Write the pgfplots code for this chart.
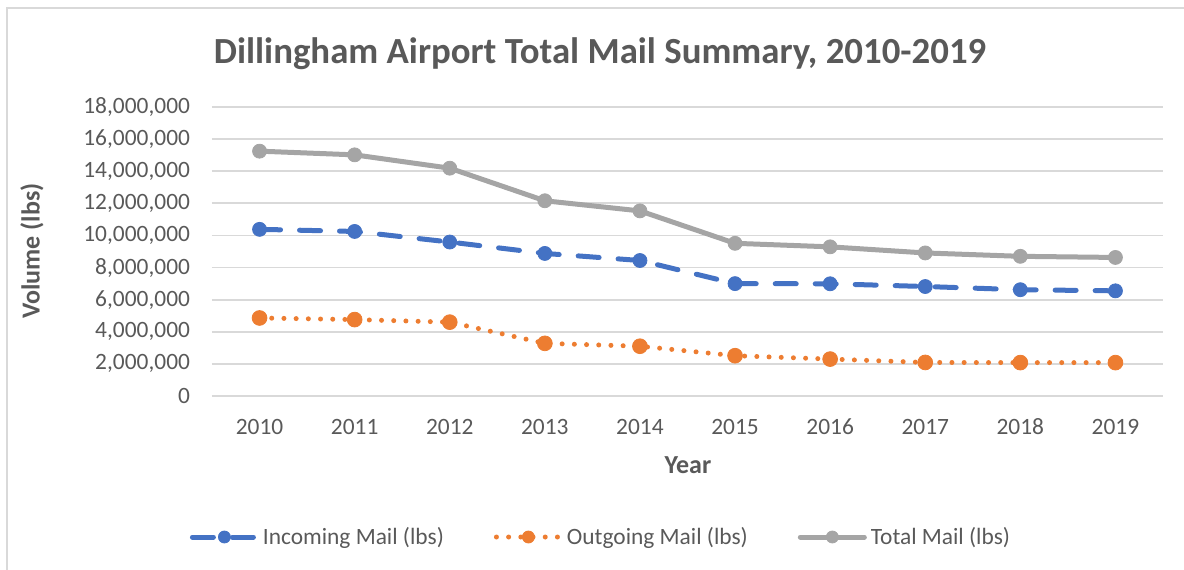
\documentclass[border=0pt]{standalone}
\usepackage{pgfplots}
\pgfplotsset{compat=1.18}
\usepackage{fontspec}
\setmainfont{Carlito}
\definecolor{txt}{HTML}{595959}
\definecolor{gridc}{HTML}{D9D9D9}
\definecolor{cin}{HTML}{4472C4}
\definecolor{cout}{HTML}{ED7D31}
\definecolor{ctot}{HTML}{A5A5A5}
\begin{document}
\begin{tikzpicture}
\useasboundingbox (-106pt,-86.5pt) rectangle (486pt,198pt);
\draw[gridc, line width=0.8pt] (-102.5pt,-95pt) -- (-102.5pt,194pt) -- (495pt,194pt);
\begin{axis}[
  at={(0pt,0pt)}, anchor=south west,
  scale only axis, width=475.5pt, height=144.5pt,
  xmin=-0.5, xmax=9.5, ymin=0, ymax=18000000,
  xtick={0,1,2,3,4,5,6,7,8,9},
  xticklabels={2010,2011,2012,2013,2014,2015,2016,2017,2018,2019},
  ytick={0,2000000,4000000,6000000,8000000,10000000,12000000,14000000,16000000,18000000},
  scaled y ticks=false,
  /pgf/number format/assume math mode=true,
  /pgf/number format/fixed,
  /pgf/number format/1000 sep={,},
  ticklabel style={font=\fontsize{11.7}{14}\selectfont, text=txt},
  yticklabel style={xshift=-7.5pt},
  xticklabel style={yshift=-7pt, text height=8.5pt, text depth=0pt},
  major tick length=0pt,
  axis line style={draw=none},
  ymajorgrids, grid style={gridc, line width=0.9pt},
  legend columns=3,
  legend style={draw=none, fill=none, at={(195pt,-70.5pt)}, anchor=center,
    font=\fontsize{11.7}{14}\selectfont, text=txt,
    /tikz/every even column/.append style={column sep=23pt}},
  legend cell align=left,
  legend image code/.code={\draw[mark repeat=2,mark phase=2, mark size=3pt] plot coordinates {(0pt,0pt) (16pt,0pt) (32pt,0pt)};},
]
\addplot[cin, line width=2.5pt, line cap=round, dash pattern=on 10.5pt off 9.5pt, mark=*, mark size=3.5pt, mark options={solid, fill=cin, draw=cin, line width=0.4pt}]
  coordinates {(0,10380000) (1,10250000) (2,9590000) (3,8880000) (4,8440000) (5,7000000) (6,6990000) (7,6820000) (8,6620000) (9,6550000)};
\addlegendentry{Incoming Mail (lbs)}
\addplot[cout, line width=2.5pt, line cap=round, dash pattern=on 0pt off 6.1pt, mark=*, mark size=3.7pt, mark options={solid, fill=cout, draw=cout, line width=0.4pt}]
  coordinates {(0,4860000) (1,4760000) (2,4600000) (3,3280000) (4,3100000) (5,2510000) (6,2300000) (7,2090000) (8,2080000) (9,2080000)};
\addlegendentry{Outgoing Mail (lbs)}
\addplot[ctot, line width=2.5pt, line cap=round, line join=round, mark=*, mark size=3.5pt, mark options={solid, fill=ctot, draw=ctot, line width=0.4pt}]
  coordinates {(0,15250000) (1,15020000) (2,14190000) (3,12160000) (4,11530000) (5,9510000) (6,9290000) (7,8910000) (8,8700000) (9,8630000)};
\addlegendentry{Total Mail (lbs)}
\end{axis}
\node[anchor=base, text=txt, font=\fontsize{18.4}{22}\selectfont\bfseries] at (194pt,166.5pt) {Dillingham Airport Total Mail Summary, 2010-2019};
\node[rotate=90, text=txt, font=\fontsize{13}{16}\selectfont\bfseries] at (-90pt,72.5pt) {Volume (lbs)};
\node[anchor=base, text=txt, font=\fontsize{13}{16}\selectfont\bfseries] at (238pt,-38.5pt) {Year};
\end{tikzpicture}
\end{document}
